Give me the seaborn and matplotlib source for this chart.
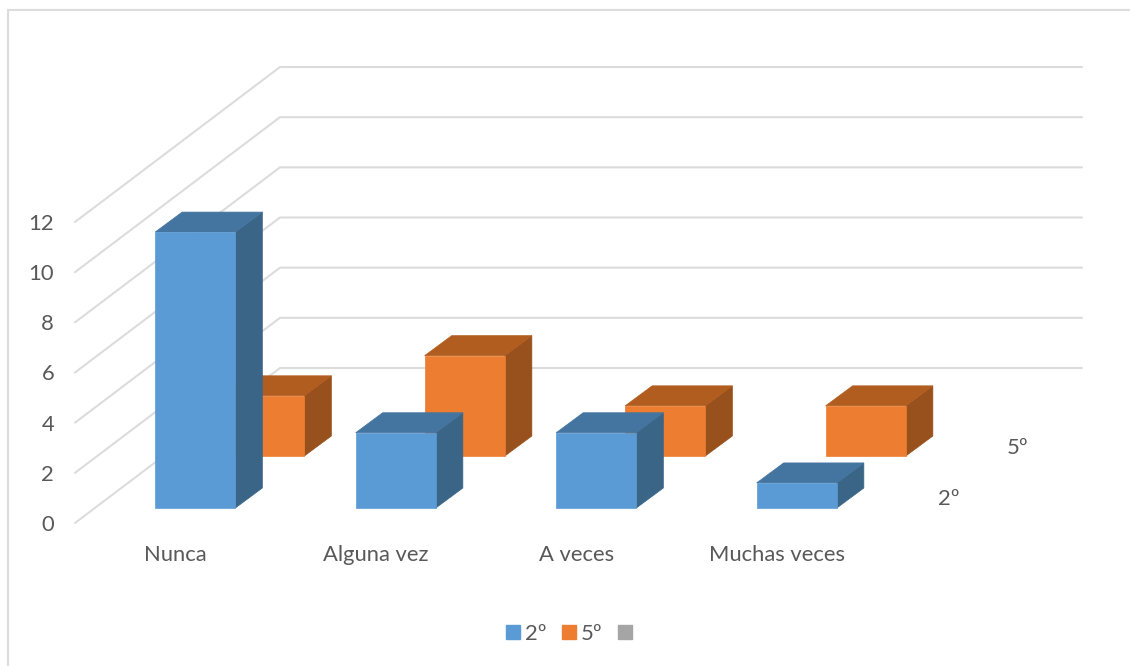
import pandas as pd
import matplotlib
matplotlib.use("Agg")
import matplotlib.pyplot as plt
import seaborn as sns
from matplotlib.lines import Line2D
from matplotlib.patches import Patch, Polygon
from matplotlib.transforms import Affine2D

categories = ["Nunca", "Alguna vez", "A veces", "Muchas veces"]
values_2 = [11, 3, 3, 1]
values_5 = [2.4, 4, 2, 2]
y_ticks = [0, 2, 4, 6, 8, 10, 12]

W, H = 1130, 666
GRAY = "#DCDCDC"
TEXT = "#595959"
FS = 15.8

sns.set_theme(style="white")
plt.rcParams["font.family"] = ["Lato", "DejaVu Sans"]

fig = plt.figure(figsize=(W / 100, H / 100), dpi=100)
# front edge of the floor, everything else is pushed back from here
ax = fig.add_axes([75 / W, 1 - 523 / H, 802 / W, 301 / H])

px_x = 802 / 4      # pixels per category
px_y = 301 / 12     # pixels per unit


def depth(dx, dy):
    return dx / px_x, dy / px_y


def draw_series(vals, color, side, top, dx, dy, z):
    df = pd.DataFrame({"cat": categories, "val": vals})
    sns.barplot(data=df, x="cat", y="val", color=color, saturation=1, width=0.4,
                errorbar=None, ax=ax)
    bars = ax.containers[-1]
    ox, oy = depth(dx, dy)
    bx, by = depth(27, 20)
    for bar in bars:
        x0, w, h = bar.get_x(), bar.get_width(), bar.get_height()
        bar.set_transform(Affine2D().translate(ox, oy) + ax.transData)
        bar.set_clip_on(False)
        bar.set_zorder(z + 0.2)
        bar.set_edgecolor(color)
        bar.set_linewidth(0.5)
        x0, x1 = x0 + ox, x0 + w + ox
        y0, y1 = oy, h + oy
        ax.add_patch(Polygon([(x1, y0), (x1 + bx, y0 + by), (x1 + bx, y1 + by), (x1, y1)],
                             facecolor=side, edgecolor=side, lw=0.5, zorder=z, clip_on=False))
        ax.add_patch(Polygon([(x0, y1), (x1, y1), (x1 + bx, y1 + by), (x0 + bx, y1 + by)],
                             facecolor=top, edgecolor=top, lw=0.5, zorder=z + 0.1, clip_on=False))


draw_series(values_5, "#ED7D31", "#98501C", "#B25D20", 89, 67, 3)
draw_series(values_2, "#5B9BD5", "#3A6587", "#4475A0", 20, 15, 4)

ax.set_xlim(-0.5, 3.5)
ax.set_ylim(0, 12)
ax.set_yticks(y_ticks)
ax.set_xlabel("")
ax.set_ylabel("")
ax.tick_params(axis="y", length=0, pad=15, labelsize=FS, labelcolor=TEXT)
ax.tick_params(axis="x", length=0, pad=15.5, labelsize=FS, labelcolor=TEXT)
sns.despine(ax=ax, left=True, bottom=True)

# side wall + back wall gridlines
wx, wy = depth(205, 155)
for v in y_ticks:
    ax.plot([-0.5, -0.5 + wx, 3.5 + wx], [v, v + wy, v + wy], color=GRAY, lw=1.5,
            zorder=1, clip_on=False, solid_joinstyle="miter")

# series names on the depth axis
ax.text(3.5 + depth(72, 0)[0], depth(0, 24)[1], "2º", fontsize=FS, color=TEXT,
        ha="center", va="center", clip_on=False)
ax.text(3.5 + depth(141, 0)[0], depth(0, 75)[1], "5º", fontsize=FS, color=TEXT,
        ha="center", va="center", clip_on=False)

handles = [Patch(color="#5B9BD5"), Patch(color="#ED7D31"), Patch(color="#A5A5A5")]
fig.legend(handles, ["2º", "5º", " "], ncol=3, loc="center left", bbox_to_anchor=(506 / W, 1 - 634 / H),
           frameon=False, fontsize=FS, labelcolor=TEXT, handlelength=0.63, handleheight=0.63,
           handletextpad=0.22, columnspacing=0.72, borderpad=0, borderaxespad=0)

# chart frame, only top and left show in the crop
fig.add_artist(Line2D([8 / W, 8 / W, 1], [0, 1 - 10 / H, 1 - 10 / H], color=GRAY, lw=1.5,
                      solid_joinstyle="miter"))

fig.savefig("out.png", dpi=100)
